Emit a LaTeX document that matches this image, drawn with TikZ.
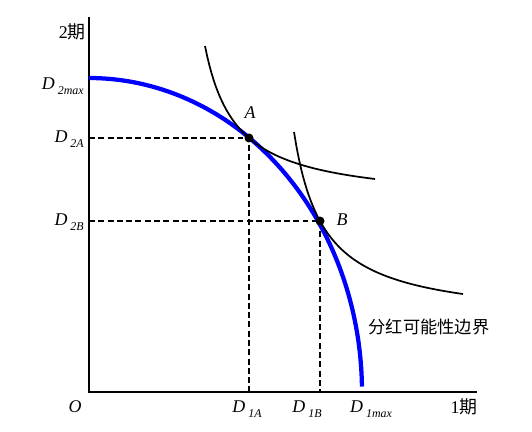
\documentclass[tikz,border=0pt]{standalone}
\usepackage{fontspec}
\setmainfont{Liberation Serif}
\newfontfamily\cjk{Noto Sans CJK SC}
\usetikzlibrary{calc}
\newcommand{\dlab}[1]{\textit{D}\,\raisebox{-0.6ex}{\fontsize{9}{10}\selectfont\textit{#1}}}

\begin{document}
\begin{tikzpicture}[x=0.0265cm, y=-0.0265cm,
    axisline/.style={line width=2.2pt},
    guide/.style={line width=1.4pt, dash pattern=on 4.5pt off 2.5pt},
    frontier/.style={line width=3.2pt, blue},
    indiff/.style={line width=1.3pt},
    lbl/.style={font=\fontsize{13.5}{15}\selectfont, inner sep=0pt}]

    \useasboundingbox (0,0) rectangle (532,432);

    % Origin and tangency points
    \coordinate (O) at (89,392);
    \coordinate (ytop) at (89,17);
    \coordinate (xend) at (477,392);
    \coordinate (A) at (249,138);
    \coordinate (B) at (320,221);

    % Axes
    \draw[axisline] (ytop) -- (O) -- (xend);

    % Guide lines to the axes
    \draw[guide] (A -| O) -- (A) -- (A |- O);
    \draw[guide] (B -| O) -- (B) -- (B |- O);

    % Dividend possibility frontier (quarter ellipse)
    \draw[frontier] plot[domain=90:1, samples=80] ({89+273*cos(\x)},{392-314*sin(\x)});

    % Indifference curves through A and B
    \draw[indiff] plot[domain=205:375, samples=80] (\x,{203.5-4934/(\x-173.67)});
    \draw[indiff] plot[domain=294:463, samples=80] (\x,{322.4-5636/(\x-264.4)});

    % Points
    \fill (A) circle (4.5);
    \fill (B) circle (4.5);
    \node[lbl] (labA) at (250,113) {\textit{A}};
    \node[lbl] (labB) at (342,220) {\textit{B}};

    % Axis labels
    \node[lbl, anchor=east] (y2) at (86,32) {2{\cjk 期}};
    \node[lbl, anchor=east] (d2max) at (84,86) {\dlab{2max}};
    \node[lbl, anchor=east] (d2a) at (84,139) {\dlab{2A}};
    \node[lbl, anchor=east] (d2b) at (84,222) {\dlab{2B}};
    \node[lbl] (orig) at (75,407) {\textit{O}};
    \node[lbl] (d1a) at (247,409) {\dlab{1A}};
    \node[lbl] (d1b) at (307,409) {\dlab{1B}};
    \node[lbl] (d1max) at (371,409) {\dlab{1max}};
    \node[lbl] (x1) at (464,407) {1{\cjk 期}};
    \node[lbl, font=\cjk\fontsize{13}{14}\selectfont] (front) at (429,327) {分红可能性边界};

\end{tikzpicture}
\end{document}
